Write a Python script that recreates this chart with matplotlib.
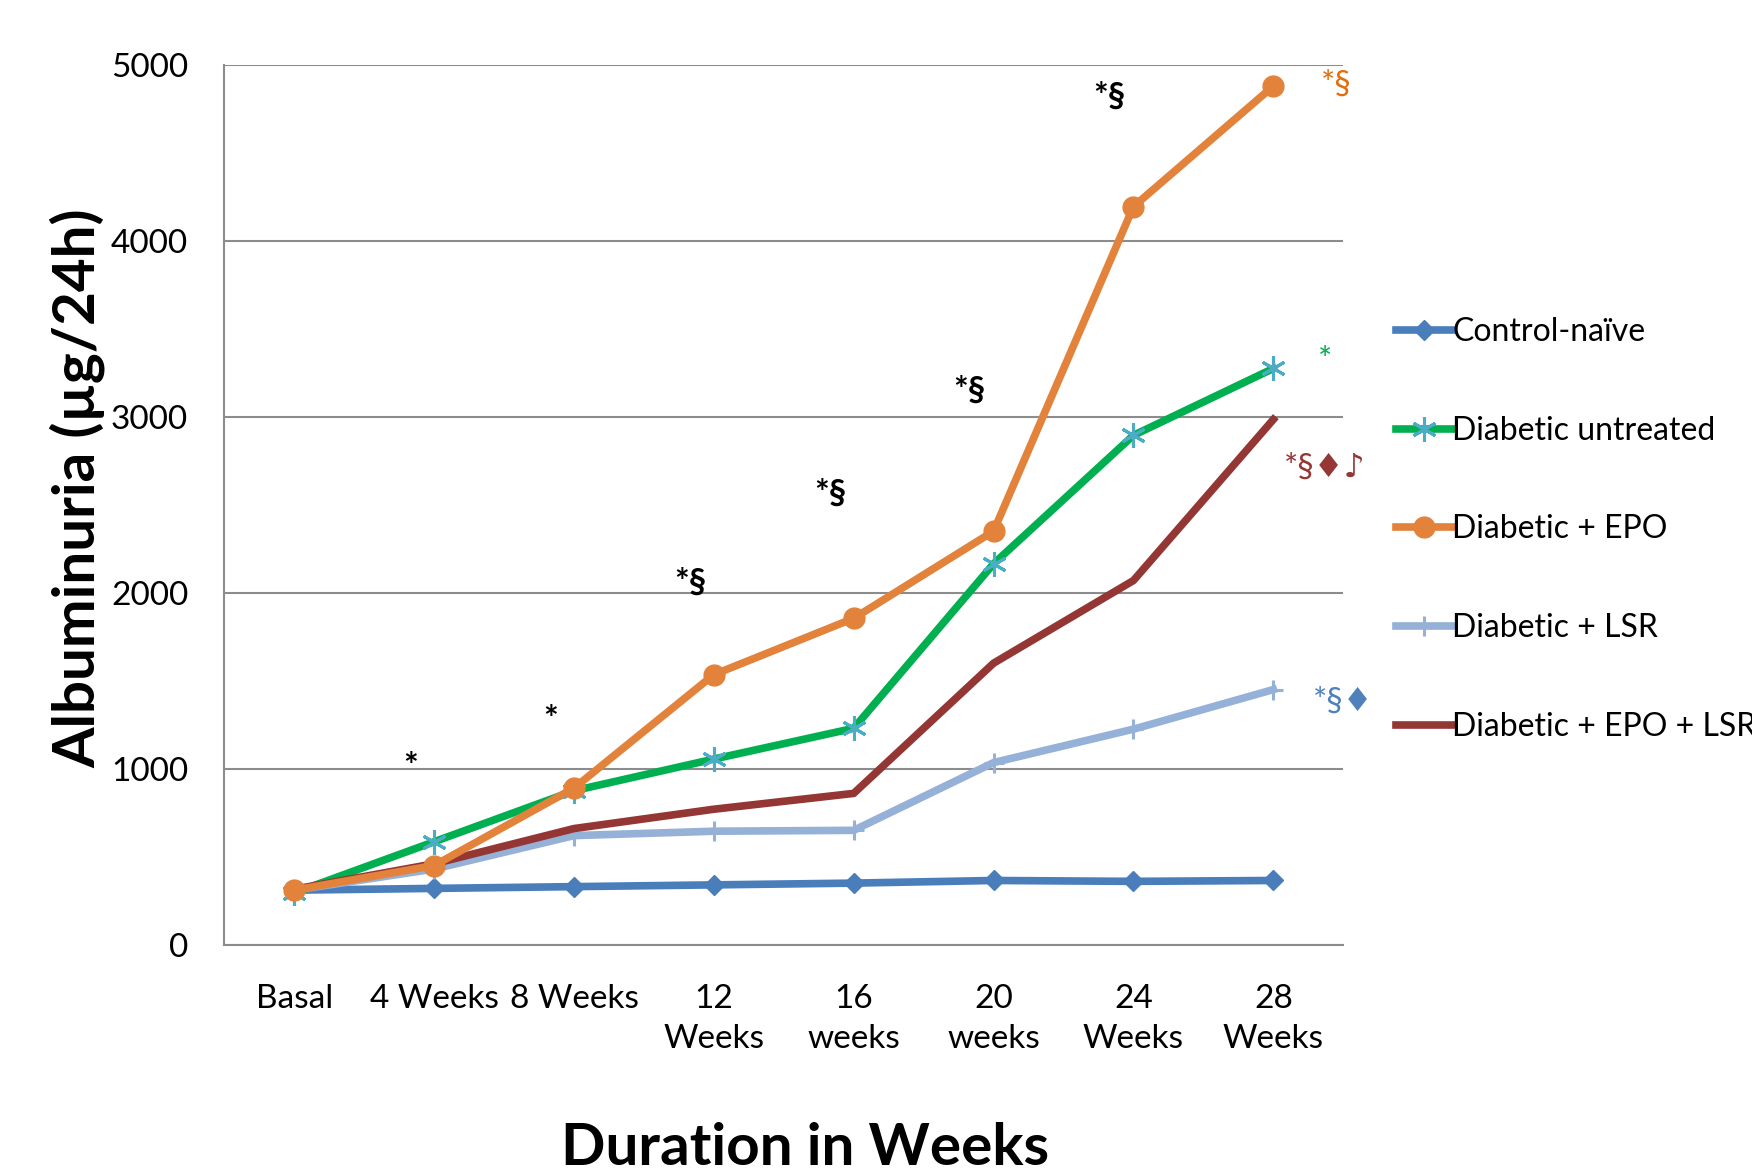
import matplotlib
matplotlib.use('Agg')
import matplotlib.pyplot as plt
import numpy as np

plt.rcParams['font.family'] = ['Lato', 'DejaVu Sans']

# categories on the x axis
weeks = ['Basal', '4 Weeks', '8 Weeks', '12\nWeeks', '16\nweeks',
         '20\nweeks', '24\nWeeks', '28\nWeeks']

# albuminuria values (ug/24h)
control_naive = [310, 320, 330, 340, 350, 365, 360, 365]
diab_untreated = [295, 585, 875, 1055, 1230, 2165, 2895, 3275]
diab_epo = [310, 450, 890, 1535, 1855, 2350, 4195, 4880]
diab_lsr = [310, 430, 620, 645, 650, 1035, 1225, 1450]
diab_epo_lsr = [315, 460, 660, 770, 860, 1600, 2070, 2985]

series_names = ['Control-naïve', 'Diabetic untreated', 'Diabetic + EPO',
                'Diabetic + LSR', 'Diabetic + EPO + LSR']

# significance marks above the groups (black) : x index, y, text
sig_x = [1, 2, 3, 4, 5, 6]
sig_y = [1010, 1275, 2055, 2565, 3150, 4820]
sig_txt = ['*', '*', '*§', '*§', '*§', '*§']

# marks at the end of each series
end_txt = ['*§', '*', '*§♦♪', '*§♦']
end_y = [4890, 3320, 2710, 1380]
end_col = ['#E46C0A', '#00B050', '#953735', '#4F81BD']

x = np.arange(len(weeks))

fig = plt.figure(figsize=(17.52, 11.75), dpi=100)
ax = fig.add_axes([0.128, 0.196, 0.6387, 0.7487])

lw = 5.5
ax.plot(x, control_naive, color='#4A7EBB', lw=lw, marker='D', ms=10,
        label=series_names[0], zorder=3)
ax.plot(x, diab_untreated, color='#00B050', lw=lw, marker=(6, 2, 0), ms=18,
        mec='#4BACC6', mew=2.2, label=series_names[1], zorder=3)
ax.plot(x, diab_epo, color='#E3823B', lw=lw, marker='o', ms=15,
        label=series_names[2], zorder=4)
ax.plot(x, diab_lsr, color='#95B1D8', lw=lw, marker='+', ms=14, mew=2.2,
        label=series_names[3], zorder=3)
ax.plot(x, diab_epo_lsr, color='#943634', lw=lw,
        label=series_names[4], zorder=3)

for xi, yi, t in zip(sig_x, sig_y, sig_txt):
    ax.text(xi - 0.17, yi, t, fontsize=25, color='black', ha='center',
            va='center', fontweight='bold')

end_dx = [0.45, 0.37, 0.37, 0.5]
for t, yi, c, dx in zip(end_txt, end_y, end_col, end_dx):
    ax.text(x[-1] + dx, yi, t, fontsize=24, color=c, ha='center',
            va='center', clip_on=False)

ax.set_xlim(-0.5, 7.5)
ax.set_ylim(0, 5000)
ax.set_yticks(np.arange(0, 5001, 1000))
ax.set_xticks(x)
ax.set_xticklabels(weeks, fontsize=24, linespacing=1.45)
ax.tick_params(axis='y', labelsize=24, length=0, pad=26)
ax.tick_params(axis='x', length=0, pad=28)

ax.grid(axis='y', color='#8C8C8C', lw=1.5)
ax.set_axisbelow(True)
for s in ['top', 'right']:
    ax.spines[s].set_visible(False)
for s in ['left', 'bottom']:
    ax.spines[s].set_color('#8C8C8C')
    ax.spines[s].set_linewidth(1.5)

ax.set_ylabel('Albuminuria (µg/24h)', fontsize=42, fontweight='bold',
              va='center')
ax.yaxis.set_label_coords(-0.131, 0.519)
ax.set_xlabel('Duration in Weeks', fontsize=42, fontweight='bold', va='center')
ax.xaxis.set_label_coords(0.519, -0.232)

ax.legend(loc='center left', bbox_to_anchor=(1.036, 0.472), frameon=False,
          fontsize=23, handlelength=1.75, handletextpad=0.0,
          labelspacing=2.15, borderaxespad=0)

fig.savefig('out.png', dpi=100)
